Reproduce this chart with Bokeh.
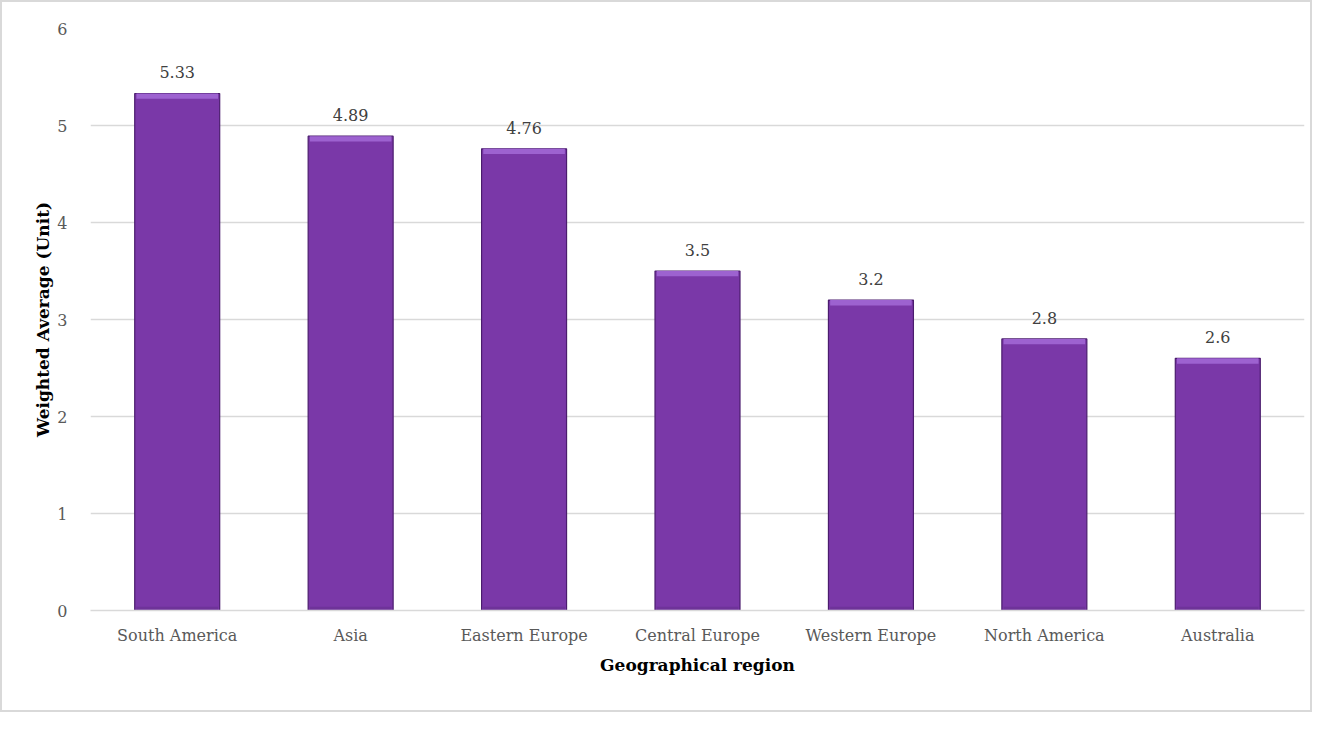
from bokeh.plotting import figure
from bokeh.models import ColumnDataSource, FactorRange, Range1d, SingleIntervalTicker
from bokeh.embed import file_html
from bokeh.resources import INLINE
from bokeh.core.properties import value

regions = ["South America", "Asia", "Eastern Europe", "Central Europe",
           "Western Europe", "North America", "Australia"]
averages = [5.33, 4.89, 4.76, 3.5, 3.2, 2.8, 2.6]
labels = ["5.33", "4.89", "4.76", "3.5", "3.2", "2.8", "2.6"]

FONT = "DejaVu Serif"
BEVEL = 0.055

src = ColumnDataSource(dict(
    x=regions, top=averages, lab=labels,
    top_strip_bottom=[v - BEVEL for v in averages],
    bot_strip_top=[BEVEL * 0.7] * len(averages),
))

p = figure(width=1312, height=712, output_backend="svg", toolbar_location=None,
           x_range=FactorRange(*regions, range_padding=0), y_range=Range1d(0, 6),
           min_border_left=88, min_border_right=10, min_border_top=26, min_border_bottom=104)
p.styles = {"border": "2px solid #d9d9d9"}
p.outline_line_color = None
p.background_fill_color = "white"

W = 0.49
p.vbar(x="x", top="top", bottom=0, width=W, source=src,
       fill_color="#7A38A8", line_color="#4B1C6E", line_width=1.2)
p.vbar(x="x", top="top", bottom="top_strip_bottom", width=W * 0.96, source=src,
       fill_color="#9D62D0", line_color=None)
p.vbar(x="x", top="bot_strip_top", bottom=0.008, width=W * 0.96, source=src,
       fill_color="#6E3399", line_color=None)

p.text(x="x", y="top", text="lab", source=src, text_align="center",
       text_baseline="bottom", y_offset=-15, text_font=value(FONT),
       text_font_size="16px", text_color="#404040")

p.yaxis.ticker = SingleIntervalTicker(interval=1)
p.ygrid.grid_line_color = "#D9D9D9"
p.ygrid.grid_line_width = 1.5
p.xgrid.grid_line_color = None

for ax in (p.xaxis, p.yaxis):
    ax.major_tick_line_color = None
    ax.minor_tick_line_color = None
    ax.major_label_text_font = FONT
    ax.major_label_text_font_size = "16px"
    ax.major_label_text_color = "#595959"
    ax.axis_label_text_font = FONT
    ax.axis_label_text_font_style = "bold"
    ax.axis_label_text_color = "black"
    ax.axis_label_text_font_size = "17px"

p.yaxis.axis_line_color = None
p.xaxis.axis_line_color = "#D9D9D9"
p.xaxis.axis_line_width = 1.5
p.yaxis.axis_label = "Weighted Average (Unit)"
p.xaxis.axis_label = "Geographical region"
p.yaxis.major_label_standoff = 17
p.xaxis.major_label_standoff = 9
p.xaxis.axis_label_standoff = 7
p.yaxis.axis_label_standoff = 1

open("out.html", "w").write(file_html(p, INLINE))
